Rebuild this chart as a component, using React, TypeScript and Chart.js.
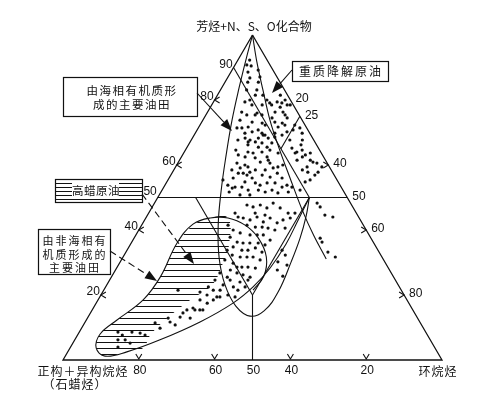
import React, { useEffect, useRef } from "react";
import { Chart, registerables } from "chart.js";

Chart.register(...registerables);

// Every point is [aromatics %, naphthenes %]; paraffins = 100 - both.
type TP = [number, number];

const leftTickValues = [90, 80, 60, 50, 40, 20]; // aromatics (+NSO)
const rightTickValues = [20, 25, 40, 50, 60, 80]; // naphthenes
const bottomTickValues = [80, 60, 50, 40, 20]; // paraffins
const leftMarks = [80, 60, 40, 20];
const rightMarks = [40, 60, 80];
const bottomMarks = [80, 60, 40, 20];

const frame: TP[] = [[100, 0], [0, 0], [0, 100], [100, 0]];
const aromatic50: TP[] = [[50, 0], [50, 50]];
const paraffin40: TP[] = [[50, 10], [20, 40]];
const naphthene40: TP[] = [[50, 40], [20, 40]];
const paraffinEqNaphthene: TP[] = [[20, 40], [0, 50]];
const paraffin10: TP[] = [[90, 0], [50, 40]];
const naphthene25: TP[] = [[75, 25], [65, 25]];

const degradationLine: TP[] = [
  [100, 0], [91.7, 5.3], [83.1, 11.2], [73.8, 17.7], [65.2, 24.4], [56.0, 31.9],
  [46.2, 40.0], [38.2, 47.1], [31.1, 53.9],
];

const marineEnvelope: TP[] = [
  [100, 0], [92.3, 2.1], [83.7, 4.6], [73.8, 7.7], [63.1, 11.5], [52.3, 15.6],
  [41.5, 20.2], [31.4, 25.5], [23.1, 31.2], [16.6, 37.3], [13.5, 42.6], [15.1, 45.5],
  [20.9, 46.3], [30.2, 45.1], [37.5, 43.8], [44.3, 42.0], [50, 40],
];

const nonMarineEnvelope: TP[] = [
  [50, 40], [43.1, 40.5], [35.7, 41.0], [28.3, 40.5], [22.5, 38.9], [17.5, 36.1],
  [11.7, 30.3], [6.2, 22.5], [2.5, 15.6], [1.2, 10.5], [3.7, 6.9], [8.0, 5.8],
  [12.3, 8.1], [18.5, 11.9], [25.5, 12.9], [36.0, 12.1], [41.8, 13.4], [43.7, 17.0],
  [43.7, 21.7], [41.5, 27.3], [37.5, 32.8], [31.7, 37.8], [25.8, 40.1], [21.5, 39.4],
];

const highWaxArea: TP[] = [
  [41.8, 13.4], [43.7, 17.0], [43.7, 21.7], [35.4, 26.1], [29.2, 27.4], [23.1, 27.8],
  [18.5, 24.3], [12.3, 20.8], [7.7, 19.2], [3.7, 19.3], [2.5, 15.6], [1.2, 10.5],
  [3.7, 6.9], [8.0, 5.8], [12.3, 8.1], [18.5, 11.9], [25.5, 12.9], [36.0, 12.1], [41.8, 13.4],
];

const marineUpperOils: TP[] = [
  [92.3, 3.1], [90.8, 3.1], [90.5, 4.4], [88.6, 4.5], [86.8, 5.9], [89.2, 6.9], [87.1, 8.4],
  [85.5, 8.8], [85.5, 6.0], [83.1, 6.9], [83.1, 9.6], [81.5, 12.0], [80, 13.8], [79.1, 15.0],
  [79.4, 8.3], [78.5, 10.6], [76.3, 9.0], [75.4, 10.8], [76, 13.2], [75.4, 14.8], [71.4, 11.5],
  [71.7, 13.0], [70.2, 14.8], [70.8, 16.1], [69.2, 18.2], [68.3, 20.0], [68.3, 13.9], [67.1, 15.3],
  [73.2, 13.3], [72.9, 16.1], [69.8, 13.1], [69.8, 17.6], [69.2, 18.7], [67.7, 15.5], [67.1, 17.2],
  [66.2, 15.7], [65.5, 18.8], [65.5, 21.1], [66.8, 21.7], [64.0, 16.8], [63.7, 18.3], [64.0, 20.5],
  [62.5, 22.6], [63.1, 14.7], [62.5, 16.8], [62.2, 19.6], [60.9, 21.6], [60.6, 24.3], [60.6, 15.6],
  [59.1, 17.2], [59.4, 19.1], [57.5, 18.8], [58.5, 21.5], [58.5, 24.1], [59.1, 25.9], [57.5, 17.5],
  [56.9, 20.1], [56.0, 21.9], [56.9, 24.1], [56.3, 26.5], [54.5, 26.6], [54.8, 20.6], [54.5, 23.5],
  [53.2, 18.8], [53.2, 20.6], [52.3, 22.7], [53.8, 16.6], [52.9, 18.2], [55.4, 14.5], [52.3, 25.4],
  [52.3, 29.0], [71.4, 10.2], [58.5, 15.3], [67.7, 12.3], [64.6, 13.3], [56.0, 16.9], [51.7, 18.0],
  [53.8, 25.1], [51.7, 27.5], [50.8, 23.9], [50.8, 21.3], [61.5, 23.4], [60, 18.0], [57.8, 20.4],
  [75.4, 13.0], [80, 9.3], [81.5, 10.0], [78.5, 13.3], [73.8, 9.8], [72.3, 17.2], [68.3, 17.4],
  [64.6, 22.3], [66.8, 19.1], [56.0, 29.8], [60, 28.0], [53.8, 32.2],
];

const degradedOils: TP[] = [
  [78.5, 15.8], [79.4, 16.8], [79.1, 18.2], [77.8, 18.4], [76.3, 17.8], [74.5, 17.9], [76.3, 19.9],
  [75.4, 20.9], [74.5, 21.9], [72.3, 22.4], [72.9, 21.4], [71.7, 20.9], [69.8, 21.0], [70.2, 24.0],
  [69.2, 23.2], [72.3, 25.0], [70.8, 25.3], [80, 18.6], [78.5, 19.9], [73.2, 19.3], [68.6, 21.6],
  [63.7, 24.9], [59.4, 27.0], [57.5, 27.8], [54.5, 28.7], [53.2, 31.2], [53.2, 33.8], [51.7, 33.6],
  [51.4, 31.0], [71.4, 26.8], [69.8, 28.2], [67.7, 29.3], [66.2, 29.7], [64.6, 30.8], [63.7, 29.4],
  [62.5, 31.9], [63.1, 32.4], [63.7, 33.4], [61.5, 34.5], [60.9, 35.5], [60.6, 36.7], [59.4, 34.7],
  [58.5, 33.9], [57.8, 35.7], [57.8, 38.4], [59.4, 38.6], [55.4, 37.5], [54.8, 36.5], [64.0, 29.7],
  [67.7, 26.0], [61.5, 31.0], [65.2, 27.8], [56.9, 38.0], [52.3, 36.4], [78.5, 20.7], [81.5, 16.6],
];

const naphthenicOils: TP[] = [
  [48.3, 42.9], [47.1, 44.3], [44.6, 46.8], [44.0, 49.2], [37.5, 49.1], [36.3, 50.2], [33.2, 53.3],
  [31.7, 56.0], [33.8, 40.9], [32.3, 42.5], [30.2, 41.6], [29.2, 44.5], [27.7, 42.7], [25.8, 45.1],
  [45.2, 38.6], [45.2, 36.8],
];

const marineLowerOils: TP[] = [
  [47.7, 24.7], [47.1, 26.6], [47.7, 28.2], [46.8, 30.4], [48.3, 31.3], [46.8, 33.9], [45.2, 22.8],
  [44.0, 24.2], [43.7, 25.7], [43.1, 27.8], [44.0, 29.2], [42.5, 31.6], [43.7, 32.8], [42.2, 35.4],
  [43.1, 36.5], [43.7, 38.1], [41.5, 27.8], [40.9, 30.3], [40.9, 32.1], [40.6, 33.8], [40.0, 35.9],
  [40.0, 24.9], [39.1, 27.2], [38.5, 30.1], [38.5, 32.0], [38.5, 33.6], [37.8, 25.2], [36.3, 27.8],
  [36.0, 29.5], [36.0, 31.3], [36.0, 33.5], [34.8, 27.5], [33.8, 30.3], [33.8, 31.9], [34.5, 33.5],
  [33.2, 35.9], [32.3, 28.5], [31.7, 30.9], [31.7, 32.7], [31.7, 34.3], [30.8, 36.6], [29.8, 30.0],
  [28.6, 32.9], [28.6, 34.5], [28.3, 36.6], [27.7, 30.3], [26.8, 32.5], [26.2, 34.4], [25.5, 36.6],
  [24.6, 36.5], [24.0, 34.7], [22.5, 36.8], [22.5, 33.7], [21.5, 30.7], [23.1, 30.7], [25.5, 30.6],
  [26.8, 28.0], [21.5, 28.9], [17.5, 29.3], [19.4, 30.9], [15.4, 28.4], [33.8, 26.4], [28.6, 31.6],
  [24.6, 31.8], [41.5, 22.8], [44.6, 31.0], [45.2, 28.1], [40.6, 38.3], [36.9, 36.2], [35.4, 35.6],
  [30.8, 27.3], [21.5, 35.4], [20, 33.5], [24.6, 27.8], [19.4, 35.7],
];

const nonMarineOils: TP[] = [
  [21.5, 19.6], [20.0, 28.0], [22.5, 27.1], [18.5, 26.9], [16.0, 26.3], [15.4, 25.0], [15.4, 29.2],
  [13.2, 24.3], [12.9, 21.3], [11.4, 18.6], [8.6, 10.2], [7.7, 11.8], [8.6, 13.9], [8.3, 16.2],
  [6.2, 11.4], [6.2, 13.3], [5.2, 15.1], [4.0, 12.5], [18.5, 30.4], [15.4, 27.1], [14.5, 24.4],
  [11.7, 22.4], [19.4, 31.7], [12.9, 27.1], [10.8, 24.2], [9.8, 20.7], [7.7, 17.8], [20.9, 25.7],
];

const toXY = ([a, n]: TP) => ({ x: n + a / 2, y: a });

const INK = "#111";
const CJK = '"Noto Sans CJK SC", "Noto Sans", sans-serif';
const NUM = '"Liberation Sans", Arial, sans-serif';

const decorPlugin = {
  id: "ternaryDecor",
  afterDraw(chart: any) {
    const ctx: CanvasRenderingContext2D = chart.ctx;
    const xs = chart.scales.x;
    const ys = chart.scales.y;
    const P = (a: number, n: number) => ({ x: xs.getPixelForValue(n + a / 2), y: ys.getPixelForValue(a) });
    ctx.save();
    ctx.strokeStyle = INK;
    ctx.fillStyle = INK;
    ctx.lineWidth = 1.1;

    // tick marks
    bottomMarks.forEach((p) => {
      const q = P(0, 100 - p);
      ctx.beginPath();
      ctx.moveTo(q.x - 3, q.y - 6);
      ctx.lineTo(q.x, q.y - 1);
      ctx.lineTo(q.x + 3, q.y - 6);
      ctx.stroke();
    });
    leftMarks.forEach((a) => {
      const q = P(a, 0);
      ctx.beginPath();
      ctx.moveTo(q.x + 5, q.y - 3);
      ctx.lineTo(q.x, q.y);
      ctx.lineTo(q.x + 5, q.y + 3);
      ctx.stroke();
    });
    rightMarks.forEach((n) => {
      const q = P(100 - n, n);
      ctx.beginPath();
      ctx.moveTo(q.x - 5, q.y - 3);
      ctx.lineTo(q.x, q.y);
      ctx.lineTo(q.x - 5, q.y + 3);
      ctx.stroke();
    });

    // tick labels
    ctx.font = `12px ${NUM}`;
    ctx.textBaseline = "middle";
    ctx.textAlign = "right";
    leftTickValues.forEach((a) => {
      const q = P(a, 0);
      ctx.fillText(String(a), q.x - 1, q.y - (a === 50 ? 6 : 3));
    });
    ctx.textAlign = "left";
    rightTickValues.forEach((n) => {
      const q = P(100 - n, n);
      ctx.fillText(String(n), q.x + 5, q.y - 1);
    });
    ctx.textAlign = "center";
    bottomTickValues.forEach((p) => {
      const q = P(0, 100 - p);
      ctx.fillText(String(p), q.x + 1, q.y + 11);
    });

    // axis titles
    ctx.font = `12px ${CJK}`;
    ctx.fillText("芳烃+N、S、O化合物", 254, 26);
    (ctx as any).letterSpacing = "1px";
    ctx.fillText("正构＋异构烷烃", 83, 371);
    ctx.fillText("（石蜡烃）", 75, 384);
    ctx.fillText("环烷烃", 438, 371);

    const box = (x0: number, y0: number, x1: number, y1: number) => {
      ctx.fillStyle = "#fff";
      ctx.fillRect(x0, y0, x1 - x0, y1 - y0);
      ctx.strokeStyle = INK;
      ctx.lineWidth = 1.2;
      ctx.strokeRect(x0 + 0.5, y0 + 0.5, x1 - x0, y1 - y0);
      ctx.fillStyle = INK;
    };
    const arrow = (x0: number, y0: number, x1: number, y1: number, dashed: boolean) => {
      const ang = Math.atan2(y1 - y0, x1 - x0);
      const L = 12;
      const W = 4.5;
      const bx = x1 - L * Math.cos(ang);
      const by = y1 - L * Math.sin(ang);
      ctx.lineWidth = 1.1;
      ctx.setLineDash(dashed ? [7, 4] : []);
      ctx.beginPath();
      ctx.moveTo(x0, y0);
      ctx.lineTo(bx, by);
      ctx.stroke();
      ctx.setLineDash([]);
      ctx.beginPath();
      ctx.moveTo(x1, y1);
      ctx.lineTo(bx + W * Math.sin(ang), by - W * Math.cos(ang));
      ctx.lineTo(bx - W * Math.sin(ang), by + W * Math.cos(ang));
      ctx.closePath();
      ctx.fill();
    };

    // marine oil field box
    box(63, 77, 197, 116);
    ctx.font = `11.5px ${CJK}`;
    (ctx as any).letterSpacing = "1.5px";
    ctx.fillText("由海相有机质形", 132, 91);
    ctx.fillText("成的主要油田", 132, 105);
    arrow(197, 93, 232, 131, false);

    // heavy degraded oil box
    box(292, 61, 388, 81);
    (ctx as any).letterSpacing = "2px";
    ctx.font = `12px ${CJK}`;
    ctx.fillText("重质降解原油", 341, 71);
    arrow(292, 70, 272, 93, false);

    // high-wax box with hatching
    box(55, 179, 142, 202);
    ctx.lineWidth = 1;
    for (let y = 183; y <= 199; y += 4) {
      ctx.beginPath();
      ctx.moveTo(56, y + 0.5);
      ctx.lineTo(142, y + 0.5);
      ctx.stroke();
    }
    ctx.fillStyle = "#fff";
    ctx.fillRect(72, 182, 47, 17);
    ctx.fillStyle = INK;
    (ctx as any).letterSpacing = "0.5px";
    ctx.font = `11.5px ${CJK}`;
    ctx.fillText("高蜡原油", 96, 190.5);
    arrow(142, 194, 194, 264, true);

    // non-marine oil field box
    box(38, 229, 110, 274);
    (ctx as any).letterSpacing = "2px";
    ctx.font = `11px ${CJK}`;
    ctx.fillText("由非海相有", 75, 241);
    ctx.fillText("机质形成的", 75, 255);
    ctx.fillText("主要油田", 75, 268);
    arrow(110, 251, 157, 281, true);

    ctx.restore();
  },
};

export default function App() {
  const canvasRef = useRef<HTMLCanvasElement | null>(null);

  useEffect(() => {
    const canvas = canvasRef.current;
    if (!canvas) return;
    const pc = document.createElement("canvas");
    pc.width = 4;
    pc.height = 6;
    const pctx = pc.getContext("2d")!;
    pctx.fillStyle = INK;
    pctx.fillRect(0, 0, 4, 1);
    const hatch = canvas.getContext("2d")!.createPattern(pc, "repeat");

    const lineDs = (pts: TP[], tension = 0, width = 1.1) => ({
      type: "scatter" as const,
      data: pts.map(toXY),
      showLine: true,
      borderColor: INK,
      borderWidth: width,
      pointRadius: 0,
      tension,
      fill: false,
      clip: false as any,
      order: 5,
    });
    const dotDs = (pts: TP[]) => ({
      type: "scatter" as const,
      data: pts.map(toXY),
      showLine: false,
      pointRadius: 1.6,
      pointBorderWidth: 0,
      pointBackgroundColor: INK,
      backgroundColor: INK,
      borderColor: INK,
      clip: false as any,
      order: 1,
    });

    const chart = new Chart(canvas, {
      type: "scatter",
      data: {
        datasets: [
          {
            type: "scatter",
            data: highWaxArea.map(toXY),
            showLine: true,
            borderWidth: 0,
            borderColor: "rgba(0,0,0,0)",
            backgroundColor: hatch as any,
            fill: "shape",
            tension: 0.4,
            pointRadius: 0,
            order: 10,
          } as any,
          lineDs(frame, 0, 1.3),
          lineDs(aromatic50),
          lineDs(paraffin40),
          lineDs(naphthene40),
          lineDs(paraffinEqNaphthene),
          lineDs(paraffin10),
          lineDs(naphthene25),
          lineDs(degradationLine, 0.35),
          lineDs(marineEnvelope, 0.4),
          lineDs(nonMarineEnvelope, 0.4),
          dotDs(marineUpperOils),
          dotDs(degradedOils),
          dotDs(naphthenicOils),
          dotDs(marineLowerOils),
          dotDs(nonMarineOils),
        ] as any,
      },
      options: {
        animation: false,
        responsive: false,
        devicePixelRatio: 1,
        events: [],
        layout: { padding: { left: 63, right: 46, top: 35, bottom: 33 } },
        scales: {
          x: { type: "linear", min: 0, max: 100, display: false },
          y: { type: "linear", min: 0, max: 100, display: false },
        },
        plugins: { legend: { display: false }, tooltip: { enabled: false } },
      },
      plugins: [decorPlugin],
    });
    return () => chart.destroy();
  }, []);

  return (
    <div style={{ position: "absolute", left: 0, top: 0, width: 488, height: 393, background: "#fff" }}>
      <canvas ref={canvasRef} width={488} height={393} style={{ display: "block" }} />
    </div>
  );
}
